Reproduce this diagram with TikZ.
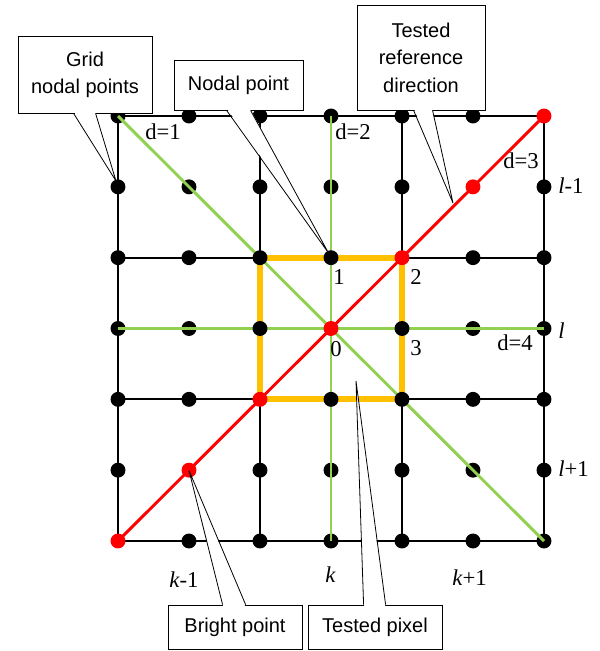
\documentclass[tikz,border=0pt]{standalone}
\usepackage{fontspec}
\setmainfont{Liberation Serif}
\newfontfamily\arialf{Liberation Sans}
\usetikzlibrary{calc}
\definecolor{lgreen}{RGB}{146,208,80}
\definecolor{gold}{RGB}{255,192,0}
\tikzset{
 gridl/.style={line width=1.5pt, black},
 greenl/.style={line width=2.2pt, lgreen},
 redl/.style={line width=2.2pt, red},
 goldl/.style={line width=4.5pt, gold},
 callbox/.style={draw, line width=0.6pt, fill=white, inner sep=0pt, align=center, font=\arialf\fontsize{15}{20.6}\selectfont},
 lab/.style={inner sep=0pt, anchor=base west, font=\fontsize{17}{20}\selectfont},
 ptr/.style={line width=0.6pt},
 bdot/.style={fill=black},
 rdot/.style={fill=red},
}
\newcommand\mydot[2]{\fill[#1] (#2) circle[radius=5.6pt];}
\begin{document}
\begin{tikzpicture}[x=0.75pt,y=-0.75pt]
\useasboundingbox (0,0) rectangle (600,651);
\foreach \i in {0,...,6}{\foreach \j in {0,...,6}{
  \coordinate (p\i\j) at ({118+71*\i},{116+70.833*\j});}}
% black grid
\foreach \j in {0,2,4,6}{\draw[gridl] (p0\j) -- (p6\j);}
\foreach \i in {0,2,4,6}{\draw[gridl] (p\i0) -- (p\i6);}
% black dots under green
\foreach \i/\j in {0/0,1/0,2/0,3/0,4/0,5/0,
                   0/1,1/1,2/1,3/1,4/1,6/1,
                   0/2,1/2,5/2,6/2,
                   0/3,1/3,5/3,6/3,
                   0/4,1/4,5/4,6/4,
                   0/5,2/5,3/5,4/5,5/5,6/5,
                   1/6,2/6,3/6,4/6,5/6,6/6}{\mydot{bdot}{p\i\j}}
% green lines
\draw[greenl] (p03) -- (p63);
\draw[greenl] (p30) -- (p36);
\draw[greenl] (p00) -- (p66);
% orange square
\draw[goldl] (p22) rectangle (p44);
% red line
\draw[redl] (p06) -- (p60);
% square dots
\foreach \i/\j in {2/2,3/2,2/3,4/3,3/4,4/4}{\mydot{bdot}{p\i\j}}
\foreach \i/\j in {0/6,1/5,2/4,3/3,4/2,5/1,6/0}{\mydot{rdot}{p\i\j}}
% labels
\node[lab] (d1) at (145,139) {d=1};
\node[lab] (d2) at (335,139) {d=2};
\node[lab] (d3) at (503,168) {d=3};
\node[lab] (d4) at (497,350) {d=4};
\node[lab] (n1) at (333,284) {1};
\node[lab] (n2) at (410,284) {2};
\node[lab] (n0) at (330,356) {0};
\node[lab] (n3) at (410,355) {3};
\node[lab] (lm) at (558,193) {\textit{l}-1};
\node[lab] (l0) at (558,338) {\textit{l}};
\node[lab] (lp) at (558,476) {\textit{l}+1};
\node[lab] (km) at (169,587) {\textit{k}-1};
\node[lab] (k0) at (325,582) {\textit{k}};
\node[lab] (kp) at (452,585) {\textit{k}+1};
% callouts top
\node[callbox, minimum width=100.5pt, minimum height=57.4pt] (cgrid) at (85,74.75) {Grid\\nodal points};
\coordinate (tgrid) at (116,181);
\fill[white] ($(cgrid.south west)+(56.5,-1.5)$) -- (tgrid) -- ($(cgrid.south west)+(77.5,-1.5)$) -- cycle;
\draw[ptr] ($(cgrid.south west)+(56,0)$) -- (tgrid) -- ($(cgrid.south west)+(78,0)$);

\node[callbox, minimum width=96.75pt, minimum height=37.5pt] (cnod) at (238.5,85) {Nodal point};
\coordinate (tnod) at (328.5,253);
\fill[white] ($(cnod.south west)+(53.5,-1.5)$) -- (tnod) -- ($(cnod.south west)+(76.5,-1.5)$) -- cycle;
\draw[ptr] ($(cnod.south west)+(53,0)$) -- (tnod) -- ($(cnod.south west)+(77,0)$);

\node[callbox, minimum width=96pt, minimum height=78.75pt] (cref) at (421,57.5) {Tested\\reference\\direction};
\coordinate (tref) at (453,203);
\fill[white] ($(cref.south west)+(57.5,-1.5)$) -- (tref) -- ($(cref.south west)+(75.5,-1.5)$) -- cycle;
\draw[ptr] ($(cref.south west)+(57,0)$) -- (tref) -- ($(cref.south west)+(76,0)$);
% callouts bottom
\node[callbox, minimum width=100.5pt, minimum height=33pt] (cbright) at (235,627) {Bright point};
\coordinate (tbright) at (189,470.5);
\fill[white] ($(cbright.north west)+(55.5,1.5)$) -- (tbright) -- ($(cbright.north west)+(77.5,1.5)$) -- cycle;
\draw[ptr] ($(cbright.north west)+(55,0)$) -- (tbright) -- ($(cbright.north west)+(78,0)$);

\node[callbox, minimum width=100.5pt, minimum height=33pt] (cpix) at (375,627) {Tested pixel};
\coordinate (tpix) at (356,381);
\fill[white] ($(cpix.north west)+(56.5,1.5)$) -- (tpix) -- ($(cpix.north west)+(77.5,1.5)$) -- cycle;
\draw[ptr] ($(cpix.north west)+(56,0)$) -- (tpix) -- ($(cpix.north west)+(78,0)$);
\end{tikzpicture}
\end{document}
